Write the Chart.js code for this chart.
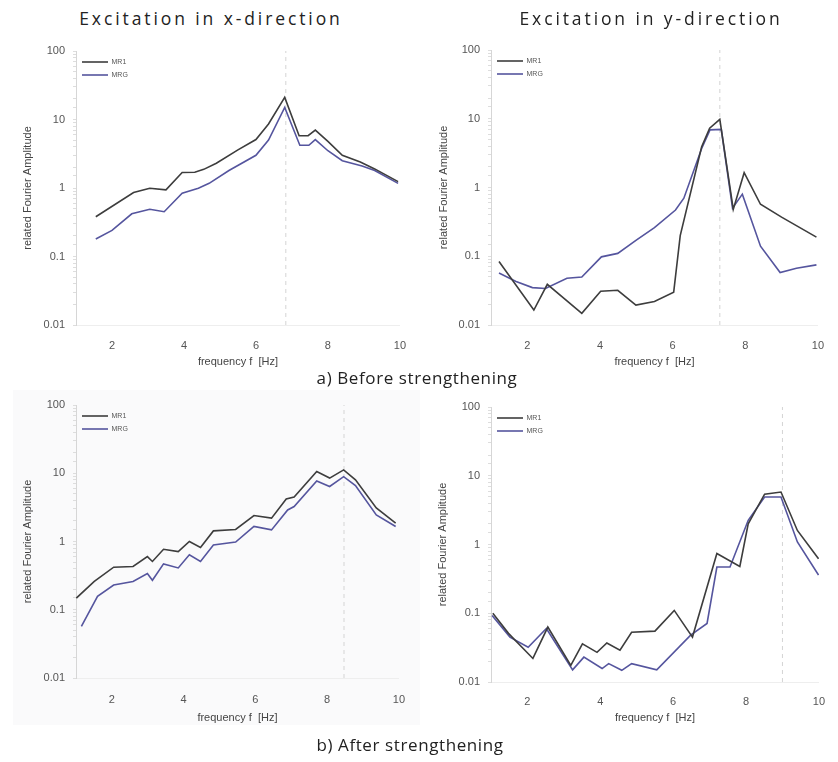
<!DOCTYPE html>
<html>
<head>
<meta charset="utf-8">
<script src="https://cdn.jsdelivr.net/npm/chart.js@4.4.0/dist/chart.umd.min.js"></script>
<style>
    body { margin: 0; background: #ffffff; }
    #page { position: relative; width: 838px; height: 762px; overflow: hidden; }
    canvas { position: absolute; }
    .txt {
        position: absolute;
        font-family: 'Open Sans', 'Noto Sans', sans-serif;
        font-size: 17px;
        line-height: 24px;
        color: #222222;
        white-space: nowrap;
        transform: translateX(-50%);
        letter-spacing: 0.6px;
    }
    .head { font-size: 17.5px; letter-spacing: 2.9px; }
    #shade { position: absolute; left: 13px; top: 390px; width: 407px; height: 335px; background: #fafafb; }
</style>
</head>
<body>
<div id="page">
    <div id="shade"></div>
    <canvas id="p1" width="420" height="360" style="left:0px;top:30px"></canvas>
    <canvas id="p2" width="420" height="360" style="left:418px;top:30px"></canvas>
    <canvas id="p3" width="420" height="360" style="left:0px;top:385px"></canvas>
    <canvas id="p4" width="420" height="360" style="left:418px;top:385px"></canvas>
    <div class="txt head" style="left:211px;top:6px">Excitation in x-direction</div>
    <div class="txt head" style="left:651px;top:6px">Excitation in y-direction</div>
    <div class="txt" style="left:417px;top:366px">a) Before strengthening</div>
    <div class="txt" style="left:410px;top:733px">b) After strengthening</div>
</div>
<script>
// ---- data ----
const seriesNames = ['MR1', 'MRG'];
const xTickValues = [2, 4, 6, 8, 10];
const yTickValues = [0.01, 0.1, 1, 10, 100];
const yTickLabels = ['0.01', '0.1', '1', '10', '100'];
const peakFreq = [6.83, 7.3, 8.47, 9.0];

// a) before, x-direction
const p1FreqMR1 = [1.55, 2.6, 3.05, 3.5, 3.95, 4.3, 4.55, 4.9, 5.5, 6.0, 6.35, 6.8, 7.2, 7.45, 7.65, 8.0, 8.4, 8.9, 9.3, 9.95];
const p1AmpMR1 = [0.38, 0.86, 0.99, 0.94, 1.68, 1.7, 1.87, 2.3, 3.6, 5.1, 8.6, 21, 5.8, 5.8, 7.0, 4.8, 3.0, 2.4, 1.9, 1.24];
const p1FreqMRG = [1.55, 2.0, 2.55, 3.05, 3.45, 3.95, 4.4, 4.7, 5.25, 6.0, 6.35, 6.8, 7.22, 7.47, 7.65, 8.0, 8.4, 8.95, 9.3, 9.95];
const p1AmpMRG = [0.18, 0.24, 0.42, 0.49, 0.45, 0.84, 0.99, 1.17, 1.8, 3.0, 5.0, 15, 4.2, 4.2, 5.1, 3.5, 2.5, 2.1, 1.8, 1.17];

// a) before, y-direction
const p2FreqMR1 = [1.22, 2.18, 2.55, 3.5, 4.02, 4.49, 4.99, 5.5, 6.03, 6.21, 6.8, 7.02, 7.3, 7.67, 7.97, 8.42, 9.0, 9.96];
const p2AmpMR1 = [0.084, 0.0165, 0.039, 0.0148, 0.031, 0.032, 0.0195, 0.022, 0.030, 0.20, 3.9, 7.3, 9.8, 0.48, 1.64, 0.57, 0.37, 0.19];
const p2FreqMRG = [1.22, 1.69, 2.14, 2.5, 3.09, 3.5, 4.04, 4.49, 4.99, 5.5, 6.08, 6.31, 6.8, 7.03, 7.34, 7.65, 7.92, 8.42, 8.96, 9.41, 9.96];
const p2AmpMRG = [0.057, 0.043, 0.035, 0.034, 0.048, 0.050, 0.098, 0.11, 0.17, 0.26, 0.47, 0.70, 3.7, 6.9, 7.0, 0.50, 0.80, 0.14, 0.058, 0.067, 0.075];

// b) after, x-direction
const p3FreqMR1 = [1.01, 1.51, 2.05, 2.59, 2.99, 3.13, 3.44, 3.85, 4.16, 4.47, 4.83, 5.45, 5.96, 6.45, 6.86, 7.08, 7.71, 8.07, 8.46, 8.79, 9.37, 9.91];
const p3AmpMR1 = [0.148, 0.26, 0.42, 0.43, 0.60, 0.51, 0.77, 0.71, 1.0, 0.82, 1.43, 1.5, 2.4, 2.2, 4.2, 4.5, 10.6, 8.5, 11.2, 8.0, 3.1, 1.86];
const p3FreqMRG = [1.15, 1.6, 2.05, 2.59, 2.99, 3.13, 3.44, 3.85, 4.16, 4.47, 4.83, 5.45, 5.96, 6.45, 6.9, 7.08, 7.71, 8.07, 8.46, 8.79, 9.37, 9.91];
const p3AmpMRG = [0.057, 0.157, 0.23, 0.26, 0.34, 0.27, 0.47, 0.41, 0.64, 0.51, 0.89, 0.98, 1.66, 1.48, 2.9, 3.25, 7.7, 6.4, 8.9, 6.6, 2.45, 1.66];

// b) after, y-direction
const p4FreqMR1 = [1.05, 1.48, 2.15, 2.56, 3.19, 3.51, 3.91, 4.18, 4.54, 4.86, 5.5, 6.03, 6.53, 7.2, 7.83, 8.06, 8.51, 8.96, 9.41, 9.99];
const p4AmpMR1 = [0.10, 0.051, 0.022, 0.063, 0.0175, 0.036, 0.027, 0.037, 0.029, 0.053, 0.055, 0.11, 0.045, 0.74, 0.48, 2.0, 5.4, 5.8, 1.6, 0.62];
const p4FreqMRG = [1.03, 1.52, 2.02, 2.52, 3.24, 3.55, 4.05, 4.23, 4.59, 4.86, 5.55, 6.48, 6.93, 7.2, 7.56, 8.06, 8.51, 8.96, 9.41, 9.99];
const p4AmpMRG = [0.093, 0.045, 0.032, 0.060, 0.015, 0.023, 0.0157, 0.0185, 0.0148, 0.0185, 0.015, 0.048, 0.071, 0.47, 0.47, 2.25, 4.9, 4.9, 1.09, 0.36];

Chart.defaults.font.family = "'Liberation Sans', Arial, sans-serif";
Chart.defaults.color = '#555555';

const toPoints = (xs, ys) => xs.map((x, i) => ({ x: x, y: ys[i] }));

const makePanel = (id, box, mr1, mrg, peak) => {
    const ctx = document.getElementById(id).getContext('2d');
    const W = 420, H = 360;

    new Chart(ctx, {
        type: 'line',
        data: {
            datasets: [
                {
                    label: seriesNames[0],
                    data: mr1,
                    borderColor: '#3d3d3d',
                    backgroundColor: '#3d3d3d',
                    borderWidth: 1.6,
                    pointRadius: 0,
                    tension: 0,
                    order: 0,
                },
                {
                    label: seriesNames[1],
                    data: mrg,
                    borderColor: '#55559e',
                    backgroundColor: '#55559e',
                    borderWidth: 1.6,
                    pointRadius: 0,
                    tension: 0,
                    order: 1,
                },
                {
                    label: 'peak',
                    data: [{ x: peak, y: yTickValues[0] }, { x: peak, y: yTickValues[yTickValues.length - 1] }],
                    borderColor: '#d4d4d4',
                    borderWidth: 1,
                    borderDash: [4, 4],
                    pointRadius: 0,
                    order: 10,
                }
            ]
        },
        options: {
            responsive: false,
            animation: false,
            layout: {
                padding: { left: 0, top: box.top, right: W - box.right, bottom: 0 }
            },
            scales: {
                x: {
                    type: 'linear',
                    min: 1,
                    max: 10,
                    afterBuildTicks: (s) => { s.ticks = xTickValues.map(v => ({ value: v })); },
                    afterFit: (s) => { s.height = H - box.bottom; },
                    grid: { display: false, drawTicks: false },
                    border: { display: true, color: '#eeeeee' },
                    ticks: { padding: box.tickPad, font: { size: 11 }, color: '#555555', maxRotation: 0 },
                    title: {
                        display: true,
                        text: 'frequency f  [Hz]',
                        font: { size: 11 },
                        color: '#444444',
                        padding: { top: 0, bottom: box.xTitlePad }
                    }
                },
                y: {
                    type: 'logarithmic',
                    min: 0.01,
                    max: 100,
                    afterFit: (s) => { s.width = box.left; },
                    grid: {
                        drawOnChartArea: false,
                        drawTicks: true,
                        tickLength: 3,
                        tickColor: '#dddddd'
                    },
                    border: { display: true, color: '#d6d6d6' },
                    ticks: {
                        padding: 8,
                        autoSkip: false,
                        font: { size: 11 },
                        color: '#555555',
                        callback: (v) => {
                            const k = yTickValues.findIndex(t => Math.abs(t - v) / t < 1e-6);
                            return k >= 0 ? yTickLabels[k] : '';
                        }
                    },
                    title: {
                        display: true,
                        text: 'related Fourier Amplitude',
                        font: { size: 11 },
                        color: '#444444',
                        padding: { top: box.yTitlePad, bottom: 0 }
                    }
                }
            },
            plugins: {
                legend: {
                    display: true,
                    position: 'chartArea',
                    align: 'start',
                    // empty title only pushes the items down to the chart area top
                    title: {
                        display: true,
                        text: ' ',
                        font: { size: 10 },
                        padding: { top: box.top + 1.5 - 12, bottom: 0 }
                    },
                    labels: {
                        usePointStyle: true,
                        pointStyle: 'line',
                        pointStyleWidth: 26,
                        padding: 6,
                        font: { size: 7 },
                        color: '#555555',
                        filter: (item) => item.datasetIndex < 2
                    }
                },
                tooltip: { enabled: false }
            }
        }
    });
};

makePanel('p1', { left: 76, right: 408, top: 21, bottom: 295, tickPad: 14, xTitlePad: 21, yTitlePad: 21 },
    toPoints(p1FreqMR1, p1AmpMR1), toPoints(p1FreqMRG, p1AmpMRG), peakFreq[0]);
makePanel('p2', { left: 73, right: 405, top: 20, bottom: 295, tickPad: 14, xTitlePad: 21, yTitlePad: 19 },
    toPoints(p2FreqMR1, p2AmpMR1), toPoints(p2FreqMRG, p2AmpMRG), peakFreq[1]);
makePanel('p3', { left: 76, right: 410, top: 20, bottom: 293, tickPad: 15, xTitlePad: 20, yTitlePad: 21 },
    toPoints(p3FreqMR1, p3AmpMR1), toPoints(p3FreqMRG, p3AmpMRG), peakFreq[2]);
makePanel('p4', { left: 73, right: 405, top: 22, bottom: 297, tickPad: 13, xTitlePad: 20, yTitlePad: 18 },
    toPoints(p4FreqMR1, p4AmpMR1), toPoints(p4FreqMRG, p4AmpMRG), peakFreq[3]);
</script>
</body>
</html>
